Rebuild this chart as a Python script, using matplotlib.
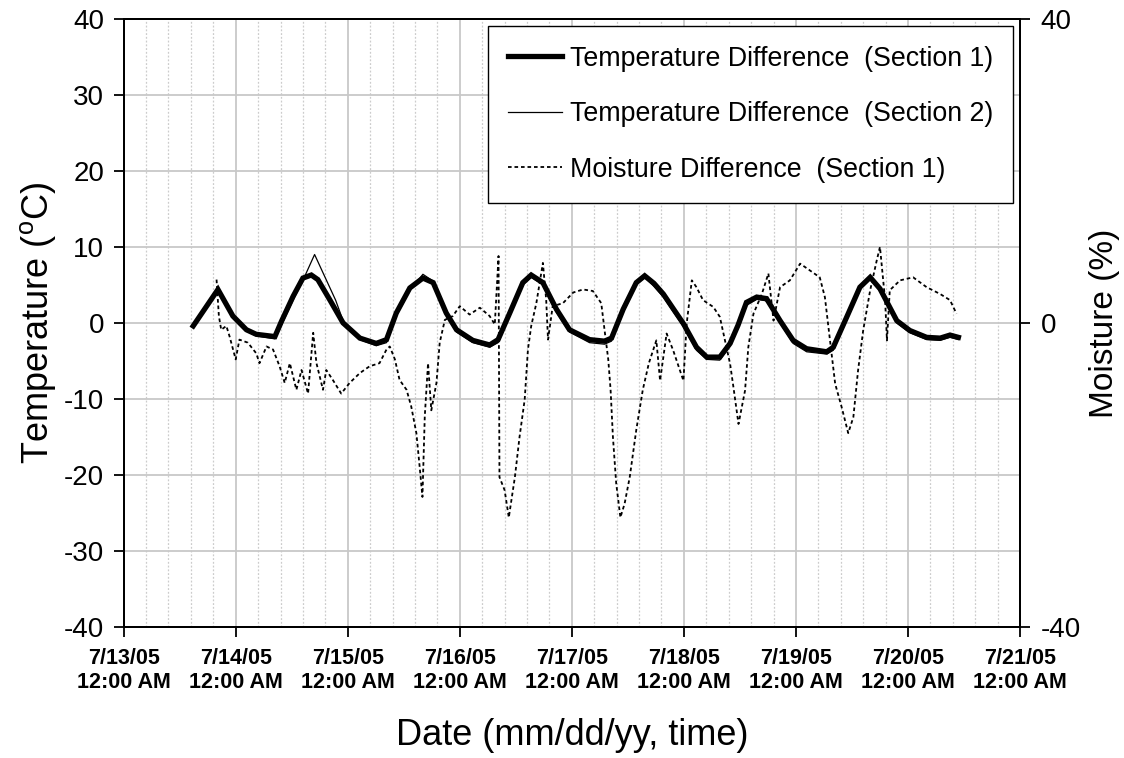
import matplotlib
matplotlib.use("Agg")
import matplotlib.pyplot as plt
from matplotlib.ticker import MultipleLocator, FuncFormatter
import matplotlib.dates as mdates
import pandas as pd

start = pd.Timestamp("2005-07-13 00:00")

# hours after 7/13/05 12:00 AM
t1_hours = [14.9, 20.2, 23.4, 26.3, 28.4, 32.4, 33.8, 36.3, 38.4, 40.2, 41.6, 44.1, 47.0,
            50.6, 54.1, 56.3, 58.4, 61.3, 64.1, 66.3, 69.1, 71.3, 74.8, 78.4, 80.2, 82.7,
            85.5, 87.3, 89.8, 92.7, 95.5, 99.8, 103.0, 104.5, 107.0, 109.8, 111.6, 113.6,
            115.6, 117.8, 119.9, 122.7, 124.9, 127.7, 129.9, 131.6, 133.4, 135.6, 137.7,
            140.6, 143.4, 146.3, 150.6, 152.0, 154.9, 157.7, 159.9, 162.0, 165.6, 168.4,
            172.0, 174.9, 177.0, 178.8]
temp_sec1 = [-0.4, 4.4, 0.9, -0.9, -1.5, -1.8, 0.2, 3.5, 5.9, 6.3, 5.7, 3.1, 0.0,
             -2.0, -2.7, -2.2, 1.3, 4.6, 5.9, 5.3, 1.3, -0.9, -2.3, -2.9, -2.2, 1.3,
             5.3, 6.3, 5.3, 1.8, -0.9, -2.2, -2.4, -2.0, 1.8, 5.3, 6.2, 5.2,
             3.8, 1.8, -0.1, -3.2, -4.5, -4.5, -2.7, -0.3, 2.7, 3.4, 3.2,
             0.3, -2.3, -3.4, -3.8, -3.2, 0.8, 4.7, 6.0, 4.5, 0.3, -1.0,
             -1.9, -2.0, -1.6, -1.9]

t2_hours = [14.9, 20.2, 23.4, 26.3, 28.4, 32.4, 33.8, 36.3, 38.4, 40.9, 42.7, 45.4, 47.0,
            50.6, 54.1, 56.3, 58.4, 61.3, 64.1, 66.3, 69.1, 71.3, 74.8, 78.4, 80.2, 82.7,
            85.5, 87.3, 89.8, 92.7, 95.5, 99.8, 103.0, 104.5, 107.0, 109.8, 111.6, 113.6,
            115.6, 117.8, 119.9, 122.7, 124.9, 127.7, 129.9, 131.6, 133.4, 135.6, 137.7,
            140.6, 143.4, 146.3, 150.6, 152.0, 154.9, 157.7, 159.9, 162.0, 165.6, 168.4,
            172.0, 174.9, 177.0, 178.8]
temp_sec2 = [-0.5, 4.2, 0.7, -1.1, -1.7, -2.1, -0.3, 3.0, 5.6, 9.0, 6.6, 3.0, 0.3,
             -2.2, -3.0, -2.6, 0.9, 4.3, 6.4, 5.5, 1.0, -1.2, -2.6, -3.2, -2.6, 1.0,
             5.0, 6.0, 5.0, 1.4, -1.2, -2.6, -2.8, -2.4, 1.4, 5.0, 6.0, 4.8,
             3.4, 1.4, -0.5, -3.6, -4.8, -4.9, -3.0, -0.7, 2.3, 3.1, 2.9,
             0.0, -2.7, -3.8, -4.1, -3.6, 0.4, 4.4, 5.8, 4.2, 0.0, -1.3,
             -2.2, -2.3, -1.9, -2.2]

m_hours = [19.9, 20.4, 20.9, 22.0, 22.7, 24.0, 24.8, 26.6, 28.4, 29.1,
           30.6, 32.0, 33.4, 34.5, 35.6, 37.0, 38.1, 39.5, 40.6, 41.3,
           42.7, 43.4, 44.8, 46.6, 48.4, 50.6, 52.7, 54.8, 56.3, 57.0,
           58.1, 59.1, 60.6, 61.6, 62.7, 63.4, 64.0, 64.5, 65.2, 65.9,
           67.0, 67.7, 68.8, 70.5, 72.0, 74.1, 76.3, 78.4, 79.5, 80.3,
           80.5, 81.6, 82.5, 83.8, 84.8, 85.9, 86.6, 87.3, 88.4, 89.8,
           90.5, 90.9, 91.9, 94.1, 96.3, 98.4, 100.5, 102.3, 103.0, 103.8,
           104.3, 104.8, 105.5, 106.4, 107.3, 108.4, 109.8, 111.2, 112.5, 114.1,
           114.9, 116.3, 117.7, 119.9, 120.6, 121.7, 122.7, 124.1, 126.3, 127.7,
           128.8, 129.9, 130.6, 131.7, 133.1, 133.8, 134.9, 136.7, 138.1, 139.2,
           140.6, 142.7, 144.9, 147.0, 149.1, 150.2, 151.3, 152.4, 153.8, 155.2,
           156.3, 157.3, 158.4, 159.9, 161.3, 162.0, 163.1, 163.5, 164.1, 166.3,
           169.1, 172.0, 174.9, 177.0, 178.4]
moist_sec1 = [5.7, 0.9, -0.9, -0.4, -1.8, -4.8, -2.2, -2.6, -4.0, -5.3,
              -3.1, -3.5, -5.7, -7.9, -5.3, -8.8, -6.2, -9.3, -1.3, -5.3,
              -8.8, -6.2, -7.5, -9.3, -7.9, -6.6, -5.7, -5.3, -3.5, -3.1,
              -4.8, -7.5, -8.8, -11.0, -14.5, -18.9, -22.9, -12.3, -5.3, -11.5,
              -7.9, -2.6, 0.4, 0.9, 2.2, 1.1, 2.0, 0.9, -0.2, 8.8,
              -20.3, -22.0, -25.6, -20.3, -15.0, -10.1, -3.5, -0.4, 2.6, 7.9,
              3.1, -2.2, 2.2, 2.6, 4.0, 4.4, 4.2, 2.6, -0.9, -4.8,
              -8.8, -15.0, -21.1, -25.6, -23.8, -20.3, -14.1, -8.8, -5.3, -2.3,
              -7.6, -1.4, -3.6, -7.6, -0.1, 5.6, 4.7, 3.0, 2.1, 0.8,
              -2.3, -5.4, -8.4, -13.3, -8.9, -3.2, 1.2, 3.8, 6.5, 0.3,
              4.7, 5.6, 7.8, 6.9, 6.0, 3.4, -2.3, -8.0, -11.1, -14.5,
              -12.4, -6.3, -1.0, 4.3, 8.2, 10.0, 3.0, -2.3, 4.3, 5.6,
              6.0, 4.7, 3.8, 3.0, 1.2]

labels = ["Temperature Difference  (Section 1)",
          "Temperature Difference  (Section 2)",
          "Moisture Difference  (Section 1)"]

plt.rcParams["font.family"] = ["Liberation Sans", "DejaVu Sans"]
plt.rcParams["mathtext.fontset"] = "custom"
plt.rcParams["mathtext.rm"] = "Liberation Sans"
plt.rcParams["axes.unicode_minus"] = False


def to_dates(hours):
    return (start + pd.to_timedelta(hours, unit="h")).to_pydatetime()


def day_label(v, pos):
    d = mdates.num2date(v)
    return "{}/{}/{}\n12:00 AM".format(d.month, d.day, d.strftime("%y"))


fig = plt.figure(figsize=(11.24, 7.58), dpi=100)
ax = fig.add_axes([0.110, 0.173, 0.7975, 0.802])
ax2 = ax.twinx()

l1, = ax.plot(to_dates(t1_hours), temp_sec1, color="black", lw=3.8, solid_joinstyle="miter")
l2, = ax.plot(to_dates(t2_hours), temp_sec2, color="black", lw=0.9)
l3, = ax2.plot(to_dates(m_hours), moist_sec1, color="black", lw=1.3, ls=(0, (2, 1.6)))

ax.set_xlim(start.to_pydatetime(), (start + pd.Timedelta(days=8)).to_pydatetime())
ax.set_ylim(-40, 40)
ax2.set_ylim(-40, 40)

ax.xaxis.set_major_locator(MultipleLocator(1))
ax.xaxis.set_minor_locator(MultipleLocator(0.2))
ax.xaxis.set_major_formatter(FuncFormatter(day_label))
ax.yaxis.set_major_locator(MultipleLocator(10))
ax2.set_yticks([-40, 0, 40])

ax.set_axisbelow(True)
ax.grid(which="major", color="#c8c8c8", lw=1.3)
ax.grid(which="minor", axis="x", color="#cccccc", lw=0.9, ls=(0, (1.5, 1.5)))

ax.tick_params(axis="x", which="major", direction="out", length=7, width=1.3, pad=8)
ax.tick_params(axis="x", which="minor", length=0)
ax.tick_params(axis="y", direction="out", length=7, width=1.3, pad=7, labelsize=20)
ax2.tick_params(axis="y", direction="out", length=7, width=1.3, pad=8, labelsize=20)
for lab in ax.get_xticklabels():
    lab.set_fontweight("bold")
    lab.set_fontsize(15.5)

for a in (ax, ax2):
    for s in a.spines.values():
        s.set_linewidth(1.4)
        s.set_color("black")

ax.set_xlabel("Date (mm/dd/yy, time)", fontsize=26, labelpad=18)
ax.set_ylabel(r"Temperature ($^{\rm o}$C)", fontsize=26, labelpad=4)
ax2.set_ylabel("Moisture (%)", fontsize=24, labelpad=6)

leg = ax2.legend([l1, l2, l3], labels, loc="upper right", fontsize=19.3,
                 frameon=True, fancybox=False, framealpha=1, edgecolor="black",
                 handlelength=2.0, handletextpad=0.3, labelspacing=1.1,
                 borderpad=0.75, borderaxespad=0.25)
leg.get_frame().set_linewidth(1.0)

fig.savefig("out.png", dpi=100)
